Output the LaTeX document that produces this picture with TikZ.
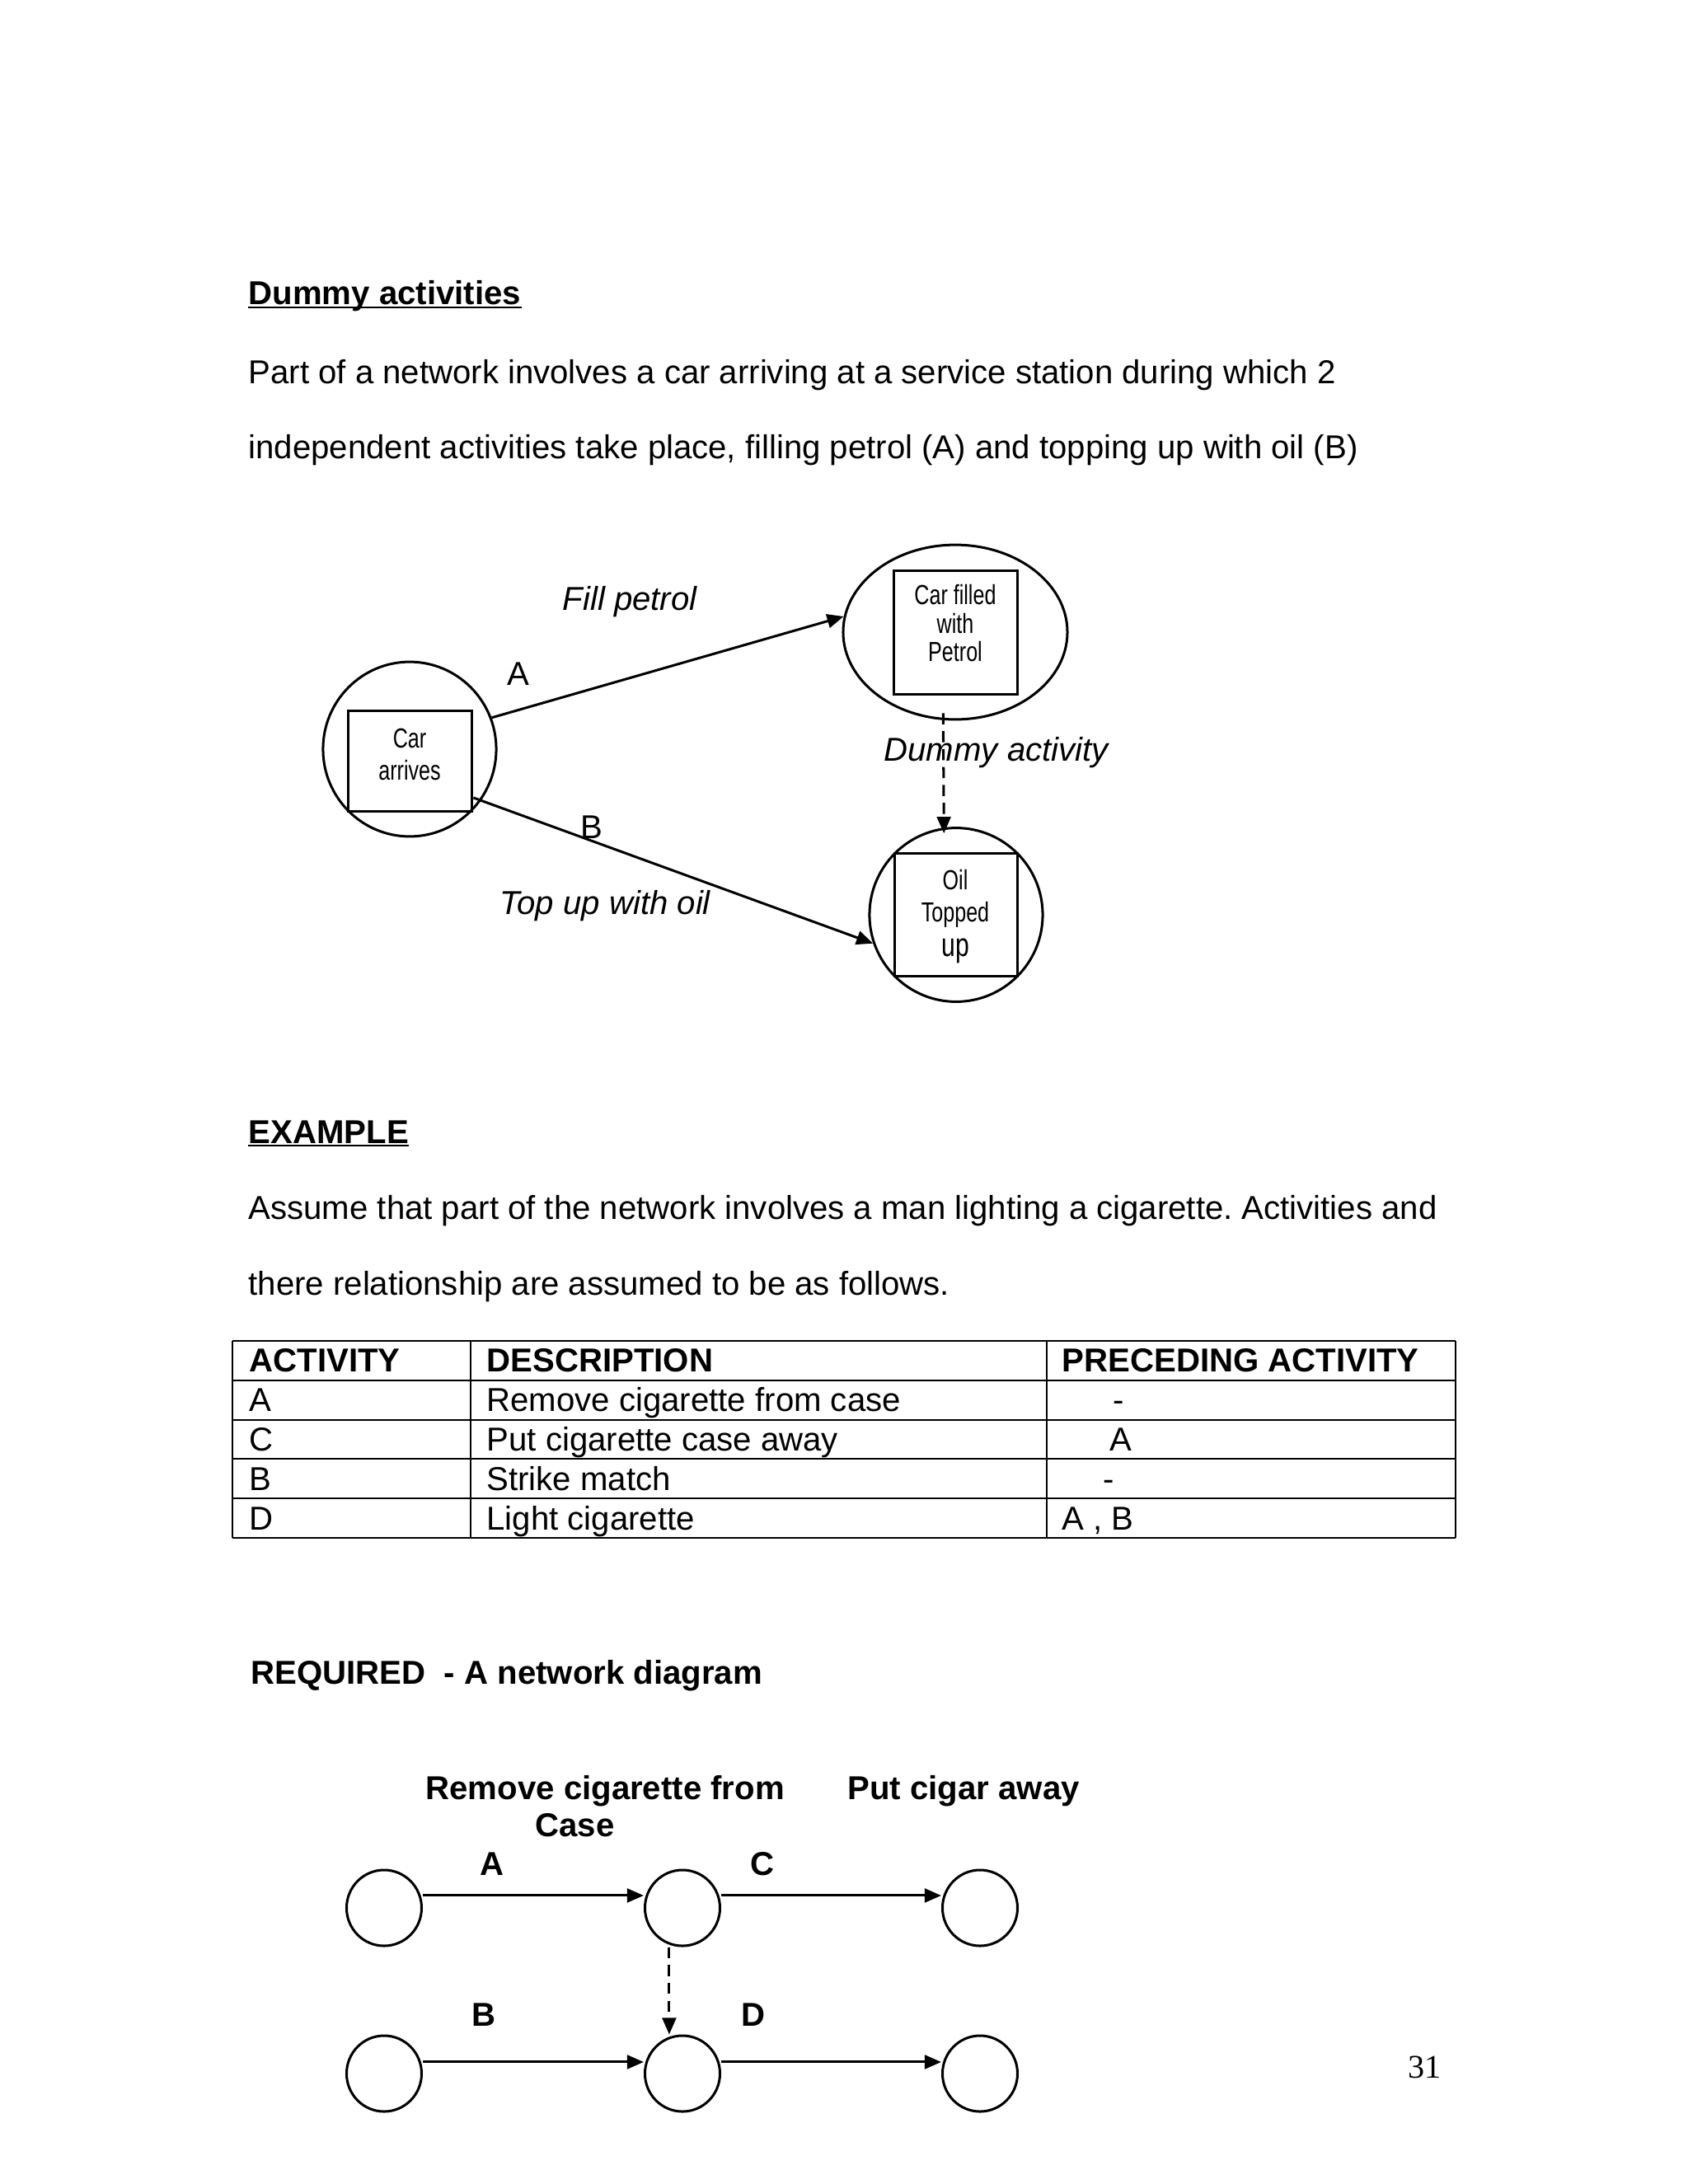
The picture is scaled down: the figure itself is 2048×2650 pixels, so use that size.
\documentclass[tikz,border=0pt]{standalone}
\usepackage{fontspec}
\setmainfont{Liberation Sans}
\newfontfamily\narrowfont[FakeStretch=0.75]{Liberation Sans}
\newfontfamily\timesfont{Liberation Serif}
\usetikzlibrary{shapes.geometric,arrows.meta}
\frenchspacing
\begin{document}
\begin{tikzpicture}[x=0.298828pt,y=-0.298828pt,
  txt/.style={inner sep=0pt,anchor=base west,font=\fontsize{12}{14.4}\selectfont},
  btxt/.style={txt,font=\fontsize{12}{14.4}\selectfont\bfseries},
  itxt/.style={txt,font=\fontsize{12}{14.4}\selectfont\itshape},
  evt/.style={draw,ellipse,line width=0.9pt,inner sep=0pt},
  boxnode/.style={draw,rectangle,line width=0.9pt,inner sep=0pt},
  boxtxt/.style={inner sep=0pt,anchor=base,font=\narrowfont\fontsize{10}{11}\selectfont},
  arr/.style={line width=0.9pt,-{Triangle[length=6pt,width=5pt]}},
  darr/.style={arr,dash pattern=on 4pt off 2.5pt},
  tline/.style={line width=0.7pt}]
\path[use as bounding box] (0,0) rectangle (2048,2650);

% ---- heading and text
\node[btxt] (h1) at (301,369) {Dummy activities};
\draw[line width=0.6pt] ([yshift=-1.2pt]h1.base west) -- ([yshift=-1.2pt]h1.base east);
\node[txt] (p1) at (301,465) {Part of a network involves a car arriving at a service station during which 2};
\node[txt] (p2) at (301,556) {independent activities take place, filling petrol (A) and topping up with oil (B)};

% ---- diagram 1
\node[evt,minimum width=62.8pt,minimum height=63.3pt] (c1) at (497,909) {};
\node[boxnode,minimum width=45.1pt,minimum height=36.2pt] (b1) at (497.5,923.5) {};
\node[boxtxt] (b1l1) at (497,907) {Car};
\node[boxtxt] (b1l2) at (497,946) {arrives};
\node[evt,minimum width=81.3pt,minimum height=63.3pt] (c2) at (1159,767) {};
\node[boxnode,minimum width=45.1pt,minimum height=45.1pt] (b2) at (1159.5,767.5) {};
\node[boxtxt] (b2l1) at (1159,733) {Car filled};
\node[boxtxt] (b2l2) at (1159,768) {with};
\node[boxtxt] (b2l3) at (1159,802) {Petrol};
\node[evt,minimum width=62.8pt,minimum height=63pt] (c3) at (1160,1110) {};
\node[boxnode,minimum width=44.8pt,minimum height=44.8pt] (b3) at (1160,1110) {};
\node[boxtxt] (b3l1) at (1159,1079) {Oil};
\node[boxtxt] (b3l2) at (1159,1118) {Topped};
\node[boxtxt,font=\narrowfont\fontsize{12}{13}\selectfont] (b3l3) at (1159,1160) {up};

\draw[arr] (c1.21) -- (c2.172);
\draw[arr] (b1.-30) -- (c3.199);
\draw[darr] ([xshift=-4.4pt,yshift=2.7pt]c2.south) -- ([xshift=-4.4pt,yshift=-2.4pt]c3.north);

\node[itxt] (lfill) at (682,740) {Fill petrol};
\node[txt] (lA1) at (615,831) {A};
\node[itxt] (ldummy) at (1072,923) {Dummy activity};
\node[txt] (lB1) at (704,1017) {B};
\node[itxt] (ltop) at (606,1109) {Top up with oil};

% ---- example
\node[btxt] (h2) at (301,1387) {EXAMPLE};
\draw[line width=0.6pt] ([yshift=-1.0pt]h2.base west) -- ([yshift=-1.0pt]h2.base east);
\node[txt] (p3) at (301,1479) {Assume that part of the network involves a man lighting a cigarette. Activities and};
\node[txt] (p4) at (301,1571) {there relationship are assumed to be as follows.};

% ---- table
\foreach \yy in {1627,1675,1723,1770,1818,1866}
  \draw[tline] (282,\yy) -- (1766,\yy);
\foreach \xx in {282,571,1270,1766}
  \draw[tline] (\xx,1627) -- (\xx,1866);
\node[btxt] (t11) at (302,1664) {ACTIVITY};
\node[btxt] (t12) at (590,1664) {DESCRIPTION};
\node[btxt] (t13) at (1288,1664) {PRECEDING ACTIVITY};
\node[txt] (t21) at (302,1712) {A};
\node[txt] (t22) at (590,1712) {Remove cigarette from case};
\node[txt] (t23) at (1350,1712) {-};
\node[txt] (t31) at (302,1760) {C};
\node[txt] (t32) at (590,1760) {Put cigarette case away};
\node[txt] (t33) at (1346,1760) {A};
\node[txt] (t41) at (302,1808) {B};
\node[txt] (t42) at (590,1808) {Strike match};
\node[txt] (t43) at (1338,1808) {-};
\node[txt] (t51) at (302,1856) {D};
\node[txt] (t52) at (590,1856) {Light cigarette};
\node[txt] (t53) at (1288,1856) {A , B};

% ---- required
\node[btxt] (h3) at (304,2043) {REQUIRED\ \ - A network diagram};

\node[evt,minimum width=27.2pt,minimum height=27.5pt] (n1) at (466,2315) {};
\node[evt,minimum width=27.2pt,minimum height=27.5pt] (n2) at (828,2315) {};
\node[evt,minimum width=27.2pt,minimum height=27.5pt] (n3) at (1189,2315) {};
\node[evt,minimum width=27.2pt,minimum height=27.5pt] (n4) at (466,2516) {};
\node[evt,minimum width=27.2pt,minimum height=27.5pt] (n5) at (828,2516) {};
\node[evt,minimum width=27.2pt,minimum height=27.5pt] (n6) at (1189,2516) {};

\draw[arr] ([yshift=4.5pt]n1.east) -- ([yshift=4.5pt]n2.west);
\draw[arr] ([yshift=4.5pt]n2.east) -- ([yshift=4.5pt]n3.west);
\draw[arr] ([yshift=4.2pt]n4.east) -- ([yshift=4.2pt]n5.west);
\draw[arr] ([yshift=4.2pt]n5.east) -- ([yshift=4.2pt]n6.west);
\draw[darr] ([xshift=-4.8pt]n2.south) -- ([xshift=-4.8pt]n5.north);

\node[btxt] (lrem) at (516,2183) {Remove cigarette from};
\node[btxt] (lcase) at (649,2228) {Case};
\node[btxt] (lput) at (1028,2183) {Put cigar away};
\node[btxt] (lA2) at (582,2275) {A};
\node[btxt] (lC2) at (910,2275) {C};
\node[btxt] (lB2) at (572,2458) {B};
\node[btxt] (lD2) at (899,2458) {D};

% ---- page number
\node[txt,font=\timesfont\fontsize{12}{14.4}\selectfont] (pg) at (1708,2521) {31};
\end{tikzpicture}
\end{document}
